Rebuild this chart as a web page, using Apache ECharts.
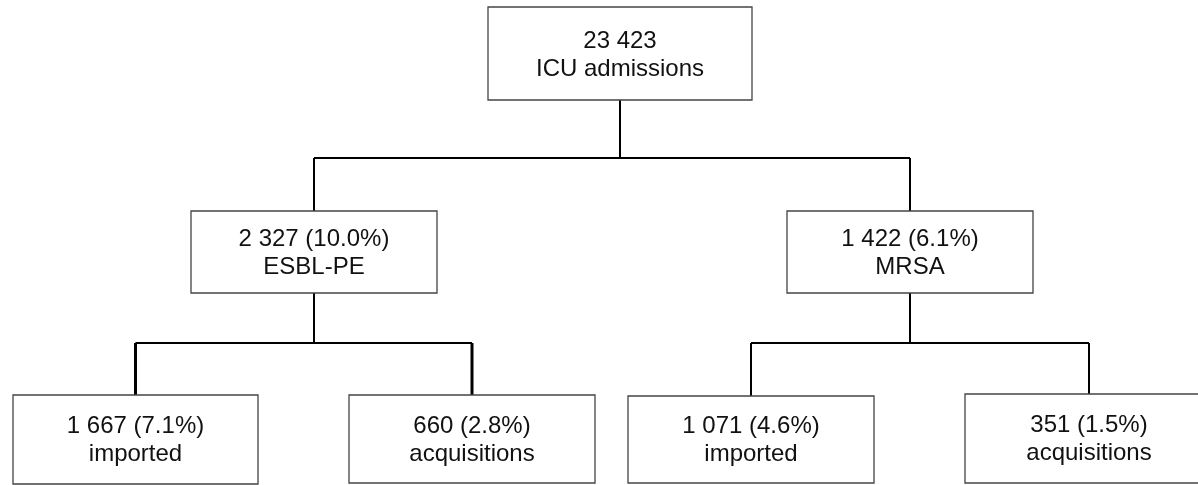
<!DOCTYPE html>
<html><head><meta charset="utf-8">
<script src="https://cdn.jsdelivr.net/npm/echarts@6/dist/echarts.min.js"></script>
<style>html,body{margin:0;padding:0;background:#fff}#c{width:1198px;height:485px}</style>
</head><body><div id="c"></div>
<script>
// ---- data ----
const nodeCounts = [23423, 2327, 1422, 1667, 660, 1071, 351];
const nodePercents = [null, 10.0, 6.1, 7.1, 2.8, 4.6, 1.5];
const nodeNames = ['ICU admissions', 'ESBL-PE', 'MRSA', 'imported', 'acquisitions', 'imported', 'acquisitions'];
const nodeParents = [-1, 0, 0, 1, 1, 2, 2];

// ---- layout (diagram units, mapped through hidden value axes) ----
const nodeLayout = [
  {cx: 620,   cy: 53.5,  w: 264, h: 93},
  {cx: 314,   cy: 252,   w: 246, h: 82},
  {cx: 910,   cy: 252,   w: 246, h: 82},
  {cx: 135.5, cy: 439.5, w: 245, h: 89},
  {cx: 472,   cy: 439,   w: 246, h: 88},
  {cx: 751,   cy: 439.5, w: 246, h: 87},
  {cx: 1089,  cy: 438.5, w: 248, h: 89}
];
const busY = {0: 158, 1: 343, 2: 343};

function fmt(n) { return String(n).replace(/\B(?=(\d{3})+(?!\d))/g, ' '); }
function label(i) {
  const p = nodePercents[i];
  return fmt(nodeCounts[i]) + (p == null ? '' : ' (' + p.toFixed(1) + '%)') + '\n' + nodeNames[i];
}

const parentsWithKids = [...new Set(nodeParents.filter(p => p >= 0))];

const chart = echarts.init(document.getElementById('c'), null, {renderer: 'canvas'});
chart.setOption({
  animation: false,
  backgroundColor: '#ffffff',
  grid: {left: 0, right: 0, top: 0, bottom: 0},
  xAxis: {type: 'value', min: 0, max: 1198, show: false},
  yAxis: {type: 'value', min: 0, max: 485, inverse: true, show: false},
  series: [
    {
      type: 'custom',
      coordinateSystem: 'cartesian2d',
      clip: false,
      z: 1,
      data: parentsWithKids.map(p => [nodeLayout[p].cx, nodeLayout[p].cy, p]),
      encode: {x: 0, y: 1},
      renderItem: function (params, api) {
        const p = api.value(2);
        const L = nodeLayout[p];
        const kids = nodeParents.map((q, i) => q === p ? i : -1).filter(i => i >= 0);
        const by = busY[p];
        const pts = [];
        const children = [];
        const style = {stroke: '#000', lineWidth: 2, fill: null};
        // parent stem
        children.push({type: 'polyline', shape: {points: [api.coord([L.cx, L.cy + L.h / 2]), api.coord([L.cx, by])]}, style: style});
        const xs = kids.map(k => nodeLayout[k].cx);
        children.push({type: 'polyline', shape: {points: [api.coord([Math.min(...xs), by]), api.coord([Math.max(...xs), by])]}, style: style});
        kids.forEach(k => {
          const C = nodeLayout[k];
          children.push({type: 'polyline', shape: {points: [api.coord([C.cx, by]), api.coord([C.cx, C.cy - C.h / 2])]}, style: {stroke: '#000', lineWidth: (p === 1 ? 3 : 2), fill: null}});
        });
        return {type: 'group', children: children};
      }
    },
    {
      type: 'custom',
      coordinateSystem: 'cartesian2d',
      clip: false,
      z: 2,
      data: nodeLayout.map((L, i) => [L.cx, L.cy, i]),
      encode: {x: 0, y: 1},
      renderItem: function (params, api) {
        const i = api.value(2);
        const L = nodeLayout[i];
        const tl = api.coord([L.cx - L.w / 2, L.cy - L.h / 2]);
        const br = api.coord([L.cx + L.w / 2, L.cy + L.h / 2]);
        const c = api.coord([L.cx, L.cy + (i === 0 ? 2 : 1)]);
        return {
          type: 'group',
          children: [
            {type: 'rect', shape: {x: tl[0], y: tl[1], width: br[0] - tl[0], height: br[1] - tl[1]},
             style: {fill: '#fff', stroke: '#444', lineWidth: 1.3}},
            {type: 'text', x: c[0], y: c[1],
             style: {text: label(i), align: 'center', verticalAlign: 'middle',
                     fontFamily: '"Liberation Sans", Arial, sans-serif', fontSize: 24, lineHeight: 28, fill: '#111'}}
          ]
        };
      }
    }
  ]
});
</script></body></html>
